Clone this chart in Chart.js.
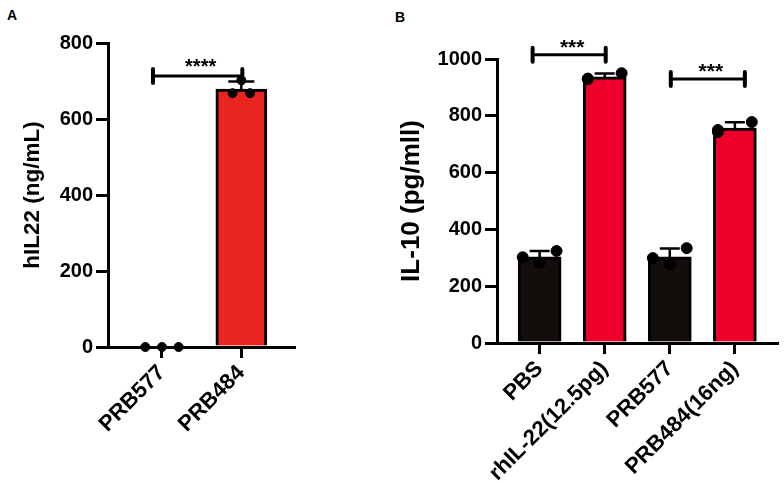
<!DOCTYPE html>
<html>
<head>
<meta charset="utf-8">
<script src="https://cdn.jsdelivr.net/npm/chart.js@4.4.0/dist/chart.umd.min.js"></script>
<style>
  body { margin: 0; background: #fff; width: 784px; height: 482px; position: relative; overflow: hidden; font-family: "Liberation Sans", Arial, sans-serif; }
  .panel { position: absolute; top: 0; }
  .tag { position: absolute; font-weight: bold; font-size: 14px; }
</style>
</head>
<body>
<div class="tag" style="left:7px;top:7px">A</div>
<div class="tag" style="left:395px;top:9px">B</div>
<div class="panel" style="left:0;width:300px;height:482px"><canvas id="chartA"></canvas></div>
<div class="panel" style="left:380px;width:404px;height:482px"><canvas id="chartB"></canvas></div>
<script>
// ---- Panel A data ----
const catsA = ['PRB577', 'PRB484'];
const meanA = [0, 679];
const errA = [0, 20];
const pointsA = [[0, 0, 0], [702, 668, 668]];
const ticksA = [0, 200, 400, 600, 800];
// pairs compared: [from, to, height, label]
const bracketsA = [[0, 1, 713, '****']];

// ---- Panel B data ----
const catsB = ['PBS', 'rhIL-22(12.5pg)', 'PRB577', 'PRB484(16ng)'];
const meanB = [303, 937, 303, 757];
const errB = [21, 12, 30, 20];
const pointsB = [[302, 283, 324], [929, 931, 950], [299, 276, 334], [750, 743, 778]];
const ticksB = [0, 200, 400, 600, 800, 1000];
const bracketsB = [[0, 1, 1015, '***'], [2, 3, 930, '***']];

const FONT = "'Liberation Sans', Arial, sans-serif";

// builds one GraphPad-style panel
function makePanel(id, cfg) {
  const barData = cfg.cats.map((c, i) => ({ x: i, y: cfg.mean[i] }));
  const dotData = [];
  cfg.points.forEach((vals, i) => {
    vals.forEach((v, k) => dotData.push({ x: i + cfg.jitter[i][k], y: v }));
  });

  const extras = {
    id: 'extras',
    afterDatasetDraw(chart, args) {
      if (args.meta.type !== 'bar') return;
      const { ctx, scales: { x, y } } = chart;
      ctx.save();
      ctx.strokeStyle = '#000';
      ctx.lineWidth = 2.5;
      cfg.mean.forEach((m, i) => {
        if (!cfg.err[i]) return;
        const px = x.getPixelForValue(i);
        const base = y.getPixelForValue(m);
        const top = y.getPixelForValue(m + cfg.err[i]);
        ctx.beginPath();
        ctx.moveTo(px, base);
        ctx.lineTo(px, top);
        ctx.moveTo(px - cfg.capW / 2, top);
        ctx.lineTo(px + cfg.capW / 2, top);
        ctx.stroke();
      });
      ctx.restore();
    },
    afterDraw(chart) {
      const { ctx, scales: { x, y } } = chart;
      ctx.save();
      ctx.strokeStyle = '#000';
      ctx.fillStyle = '#000';
      cfg.brackets.forEach(([a, b, v, label], j) => {
        const x1 = x.getPixelForValue(a) + cfg.bracketNudge[j][0];
        const x2 = x.getPixelForValue(b) + cfg.bracketNudge[j][1];
        const yy = y.getPixelForValue(v);
        ctx.lineWidth = 3;
        ctx.lineCap = 'butt';
        ctx.beginPath();
        ctx.moveTo(x1, yy);
        ctx.lineTo(x2, yy);
        ctx.stroke();
        ctx.lineWidth = 4;
        ctx.lineCap = 'round';
        ctx.beginPath();
        ctx.moveTo(x1, yy - 7);
        ctx.lineTo(x1, yy + 7);
        ctx.moveTo(x2, yy - 7);
        ctx.lineTo(x2, yy + 7);
        ctx.stroke();
        ctx.font = 'bold ' + cfg.starSize + 'px ' + FONT;
        ctx.textAlign = 'center';
        ctx.textBaseline = 'alphabetic';
        ctx.fillText(label, (x1 + x2) / 2 + 3, yy - cfg.starGap);
      });
      ctx.restore();
    }
  };

  return new Chart(document.getElementById(id), {
    type: 'bar',
    data: {
      datasets: [
        {
          type: 'scatter',
          data: dotData,
          backgroundColor: '#000',
          borderColor: '#000',
          pointRadius: cfg.dotR,
          pointHoverRadius: cfg.dotR,
          clip: false
        },
        {
          type: 'bar',
          data: barData,
          backgroundColor: cfg.colors,
          borderColor: '#000',
          borderWidth: 3,
          barThickness: cfg.barW
        }
      ]
    },
    options: {
      responsive: true,
      maintainAspectRatio: false,
      animation: false,
      layout: { padding: cfg.pad },
      plugins: { legend: { display: false }, tooltip: { enabled: false } },
      scales: {
        x: {
          type: 'linear',
          offset: false,
          min: cfg.xMin,
          max: cfg.xMax,
          afterBuildTicks: s => { s.ticks = cfg.cats.map((_, i) => ({ value: i })); },
          afterFit: s => { s.height = cfg.xHeight; },
          border: { display: true, color: '#000', width: 3 },
          grid: { display: true, offset: false, drawOnChartArea: false, drawTicks: true, tickLength: 11, color: '#000', lineWidth: 3 },
          ticks: {
            autoSkip: false, minRotation: 45, maxRotation: 45, padding: 2, color: '#000',
            font: { family: FONT, size: 22, weight: 'bold' },
            callback: v => cfg.cats[v]
          }
        },
        y: {
          min: 0,
          max: cfg.yTicks[cfg.yTicks.length - 1],
          afterBuildTicks: s => { s.ticks = cfg.yTicks.map(v => ({ value: v })); },
          afterFit: s => { s.width = cfg.yWidth; },
          border: { display: true, color: '#000', width: 3 },
          grid: { display: true, drawOnChartArea: false, drawTicks: true, tickLength: 12, color: '#000', lineWidth: 3 },
          ticks: { padding: 3, color: '#000', font: { family: FONT, size: 20, weight: 'bold' }, callback: v => String(v) },
          title: {
            display: true, text: cfg.yTitle, color: '#000',
            font: { family: FONT, size: cfg.titleSize, weight: 'bold', lineHeight: 1.2 },
            padding: { top: cfg.titlePad, bottom: 0 }
          }
        }
      }
    },
    plugins: [extras]
  });
}

makePanel('chartA', {
  cats: catsA, mean: meanA, err: errA, points: pointsA, yTicks: ticksA, brackets: bracketsA,
  yTitle: 'hIL22 (ng/mL)',
  colors: ['#000000', '#e8261f'],
  jitter: [[-0.21, 0, 0.21], [0, -0.11, 0.11]],
  bracketNudge: [[-9, 1]],
  xMin: -0.68, xMax: 1.67,
  yWidth: 108, xHeight: 135, pad: { left: 0, top: 43, right: 2, bottom: 0 },
  barW: 51, dotR: 4.5, capW: 26, starSize: 20, starGap: 3,
  titleSize: 22.5, titlePad: 19
});

makePanel('chartB', {
  cats: catsB, mean: meanB, err: errB, points: pointsB, yTicks: ticksB, brackets: bracketsB,
  yTitle: 'IL-10 (pg/mll)',
  colors: ['#130d0b', '#ee002b', '#130d0b', '#ee002b'],
  jitter: [[-0.26, 0, 0.26], [-0.26, -0.26, 0.26], [-0.26, 0, 0.26], [-0.26, -0.26, 0.26]],
  bracketNudge: [[-7, 1], [1, 10]],
  xMin: -0.655, xMax: 3.655,
  yWidth: 117, xHeight: 139, pad: { left: 0, top: 59, right: 4, bottom: 0 },
  barW: 43, dotR: 5.5, capW: 20, starSize: 21, starGap: 1,
  titleSize: 26, titlePad: 16
});
</script>
</body>
</html>
